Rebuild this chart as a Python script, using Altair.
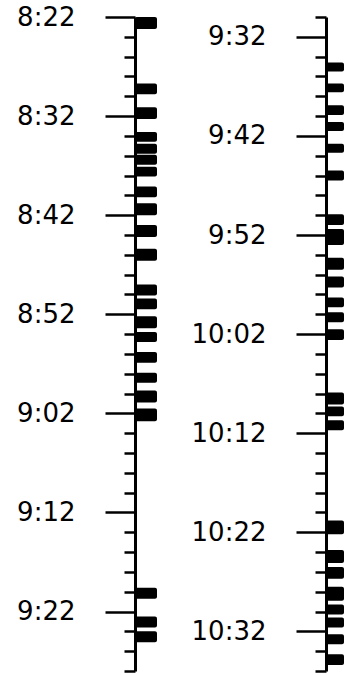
import altair as alt
import pandas as pd

# Event bars, minute of day (8:22 = 502)
left_start = [502.0, 508.7, 511.1, 513.6, 514.8, 515.9, 517.1, 519.1, 520.8, 523.0, 525.4,
              529.0, 530.4, 532.2, 533.8, 535.8, 537.9, 539.7, 541.5, 559.6, 562.5, 564.0]
left_end = [503.2, 509.8, 512.3, 514.6, 515.8, 516.9, 518.1, 520.2, 522.0, 524.2, 526.6,
            530.1, 531.5, 533.4, 534.8, 536.9, 538.9, 540.9, 542.8, 560.7, 563.6, 565.1]

right_start = [574.6, 576.7, 578.9, 580.6, 582.8, 585.5, 589.9, 591.4, 594.3, 596.2, 598.3, 599.8,
               601.5, 607.9, 609.3, 610.7, 620.8, 623.8, 625.5, 627.5, 629.3, 630.6, 632.3, 634.3]
right_end = [575.5, 577.6, 579.9, 581.5, 583.7, 586.5, 591.0, 593.0, 595.5, 597.3, 599.3, 600.8,
             602.6, 609.1, 610.3, 611.7, 622.2, 625.1, 626.7, 628.9, 630.3, 631.6, 633.3, 635.4]

left_domain = [502, 568]   # 8:22 .. 9:28
right_domain = [570, 636]  # 9:30 .. 10:36
left_ticks = list(range(502, 569, 2))
right_ticks = list(range(570, 637, 2))

label_expr = ("datum.value % 10 == 2 ? floor(datum.value / 60) + ':' + "
              "(datum.value % 60 < 10 ? '0' : '') + (datum.value % 60) : ''")

H = 654


def panel(starts, ends, domain, ticks, bar_w):
    df = pd.DataFrame({"t0": starts, "t1": ends})
    axis = alt.Axis(
        values=ticks,
        labelExpr=label_expr,
        title=None,
        grid=False,
        domainColor="black",
        domainWidth=3,
        tickColor="black",
        tickWidth=2.5,
        tickSize={"condition": {"test": "datum.value % 10 == 2", "value": 30}, "value": 11},
        labelPadding=30,
        labelFont="DejaVu Sans",
        labelFontSize=26,
        labelColor="black",
        labelBaseline="middle",
        labelOverlap=False,
        labelFlush=False,
    )
    return alt.Chart(df).mark_bar(color="black", cornerRadius=2).encode(
        y=alt.Y("t0:Q", scale=alt.Scale(domain=domain, reverse=True, nice=False, zero=False), axis=axis),
        y2="t1:Q",
        x=alt.value(0),
        x2=alt.value(bar_w),
    ).properties(width=bar_w, height=H)


left = panel(left_start, left_end, left_domain, left_ticks, 22)
right = panel(right_start, right_end, right_domain, right_ticks, 18)

chart = alt.HConcatChart(hconcat=[left, right], spacing=169, bounds="flush").properties(
    padding={"left": 16, "top": 4, "right": 0, "bottom": 1},
    background="white",
).configure_view(strokeWidth=0, stroke="transparent")

chart.save("out.html", embed_options={"renderer": "svg", "actions": False})
